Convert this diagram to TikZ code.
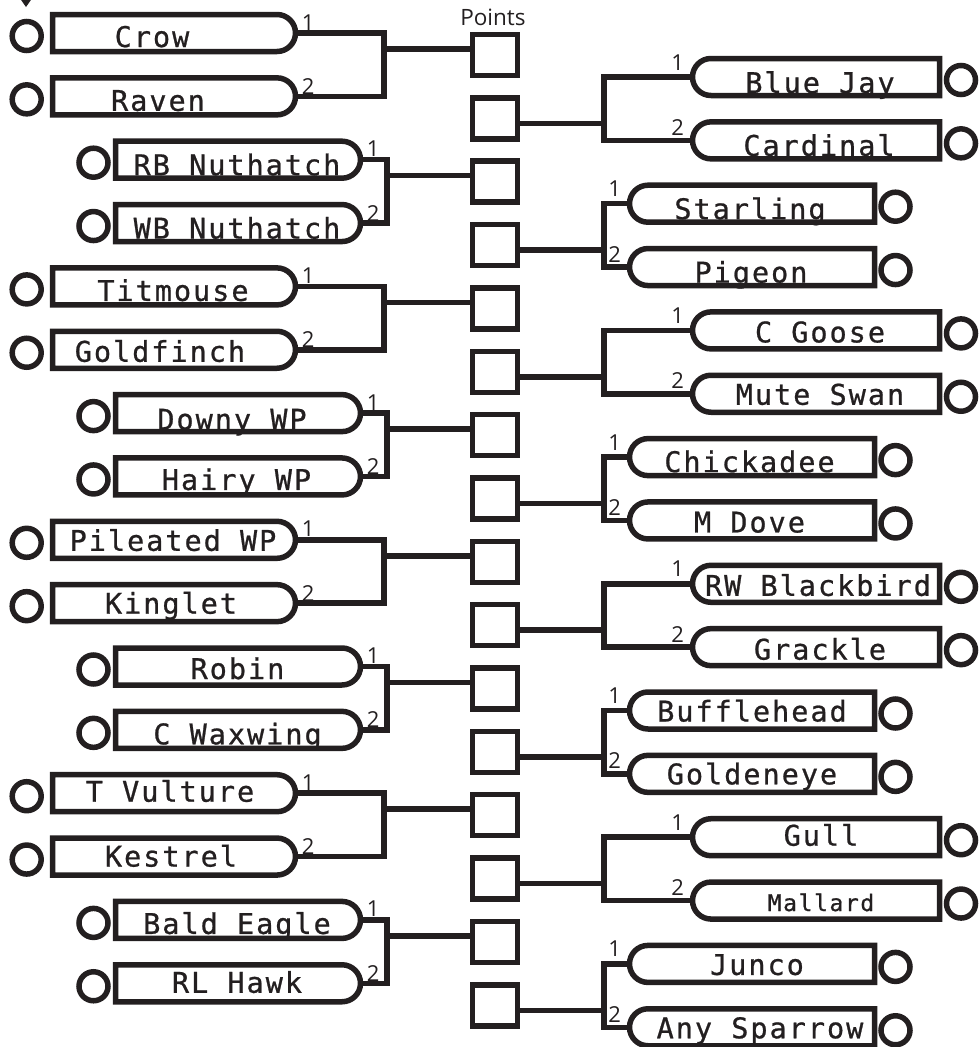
\documentclass[tikz,border=0pt]{standalone}
\usepackage{fontspec}
\usetikzlibrary{shapes.misc}
\newfontfamily\monofont[LetterSpace=7,FakeBold=0.8]{DejaVu Sans Mono}
\newfontfamily\numfont{Open Sans}
\definecolor{ink}{RGB}{35,31,32}
\tikzset{
 ln/.style={draw=ink, line width=5.5pt, line join=miter},
 lbox/.style={ln, rounded rectangle, rounded rectangle left arc=none, minimum height=37pt, inner sep=0pt},
 rbox/.style={ln, rounded rectangle, rounded rectangle right arc=none, minimum height=37pt, inner sep=0pt},
 ring/.style={ln, circle, minimum size=29pt, inner sep=0pt},
 ptbox/.style={ln, rectangle, minimum width=45pt, minimum height=41pt, inner sep=0pt},
 lbl/.style={anchor=base, inner sep=0pt, text=ink},
 num/.style={anchor=base, inner sep=0pt, text=ink, font=\numfont\fontsize{22}{24}\selectfont},
}
\begin{document}
\begin{tikzpicture}[x=1pt,y=-1pt]
\useasboundingbox (0,0) rectangle (978,1047);
\def\s{63.35}
% triangle marker
\fill[ink] (19,-3) -- (33,-3) -- (26,7) -- cycle;
% points label
\node[anchor=base, inner sep=0pt, text=ink, font=\numfont\fontsize{22.5}{24}\selectfont] (ptslabel) at (493,25) {Points};
% points boxes
\foreach \k in {0,...,15} \node[ptbox] (P\k) at (495,{55+\s*\k}) {};
% left side
\foreach \i/\t/\bx/\bw/\rx/\tx/\dy in {
 0/Crow/174/243/26.7/152/14,
 1/Raven/174/243/26.7/158/14.5,
 2/RB Nuthatch/238/245/93.5/237/15.5,
 3/WB Nuthatch/238/245/93.5/237/15.5,
 4/Titmouse/174/243/26.7/173/14.5,
 5/Goldfinch/174/243/26.7/160/12,
 6/Downy WP/238/245/93.5/232/16.5,
 7/Hairy WP/238/245/93.5/236.5/13.5,
 8/Pileated WP/174/243/26.7/173/11,
 9/Kinglet/174/243/26.7/171/10.5,
 10/Robin/238/245/93.5/237.5/12.5,
 11/C Waxwing/238/245/93.5/237.5/14.5,
 12/T Vulture/174/243/26.7/170/8.5,
 13/Kestrel/174/243/26.7/171/10,
 14/Bald Eagle/238/245/93.5/237/14,
 15/RL Hawk/238/245/93.5/237/9.5} {
 \pgfmathsetmacro\y{33+\s*\i}
 \node[lbox, minimum width=\bw pt] (L\i) at (\bx,\y) {};
 \node[ring] (cL\i) at (\rx,{\y+3}) {};
 \node[lbl, font=\monofont\fontsize{28.5}{30}\selectfont] (tL\i) at (\tx,{\y+\dy}) {\t};
}
% right side
\foreach \j/\t/\bx/\bw/\rx/\tx/\dy/\fs in {
 0/Blue Jay/816/247/961/820/16/28.5,
 1/Cardinal/816/247/961/819/15.5/28.5,
 2/Starling/752/245/895.5/750/15.5/28.5,
 3/Pigeon/752/245/895.5/751/15.5/28.5,
 4/C Goose/816/247/961/820/12/28.5,
 5/Mute Swan/816/247/961/820/11/28.5,
 6/Chickadee/752/245/895.5/749.5/15/28.5,
 7/M Dove/752/245/895.5/749.5/12/28.5,
 8/RW Blackbird/816/247/961/818/12/28.5,
 9/Grackle/816/247/961/820/12.5/28.5,
 10/Bufflehead/752/245/895.5/752/11/28.5,
 11/Goldeneye/752/245/895.5/752/10.5/28.5,
 12/Gull/816/247/961/821/8.5/28.5,
 13/Mallard/816/247/961/821/10.5/23,
 14/Junco/752/245/895.5/757/11/28.5,
 15/Any Sparrow/752/245/895.5/760/11/28.5} {
 \pgfmathsetmacro\y{77+\s*\j}
 \node[rbox, minimum width=\bw pt] (R\j) at (\bx,\y) {};
 \node[ring] (cR\j) at (\rx,{\y+3}) {};
 \node[lbl, font=\monofont\fontsize{\fs}{30}\selectfont] (tR\j) at (\tx,{\y+\dy}) {\t};
}
% brackets
\foreach \p/\lx in {0/384,1/387,2/384,3/387,4/384,5/387,6/384,7/387} {
 \pgfmathtruncatemacro\a{2*\p}
 \pgfmathtruncatemacro\b{2*\p+1}
 \coordinate (jL\p) at (\lx,{49+2*\s*\p});
 \coordinate (jR\p) at (604,{123.35+2*\s*\p});
 \draw[ln] (L\a.east) -| (jL\p) |- (L\b.east);
 \draw[ln] (jL\p) -- (jL\p -| P\a.west);
 \draw[ln] (R\a.west) -| (jR\p) |- (R\b.west);
 \draw[ln] (jR\p) -- (jR\p -| P\b.east);
 \node[num] (nL\a) at ([xshift=10pt,yshift=3pt]L\a.east) {1};
 \node[num] (nL\b) at ([xshift=10pt,yshift=2pt]L\b.east) {2};
 \node[num] (nR\a) at ([xshift=-12pt,yshift=7pt]R\a.west) {1};
 \node[num] (nR\b) at ([xshift=-12pt,yshift=5pt]R\b.west) {2};
}
\end{tikzpicture}
\end{document}
